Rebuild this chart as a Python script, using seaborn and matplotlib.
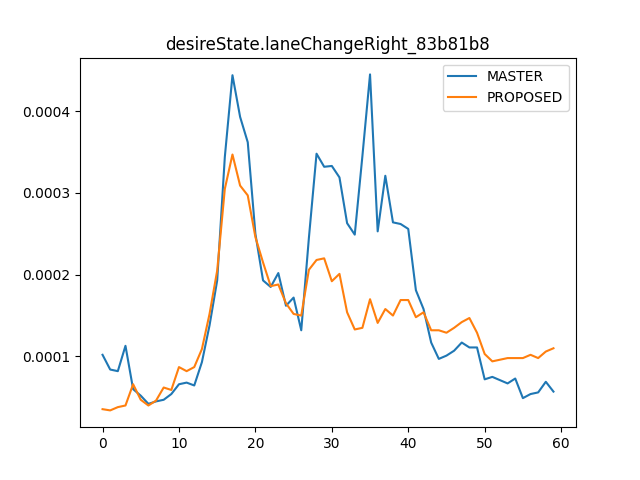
import pandas as pd
import matplotlib
matplotlib.use("Agg")
import matplotlib.pyplot as plt
import seaborn as sns

title = "desireState.laneChangeRight_83b81b8"

master = [1.02, 0.84, 0.82, 1.13, 0.60, 0.52, 0.42, 0.45, 0.47, 0.54,
          0.66, 0.68, 0.645, 0.93, 1.38, 1.93, 3.44, 4.44, 3.93, 3.62,
          2.50, 1.93, 1.85, 2.02, 1.62, 1.72, 1.32, 2.45, 3.48, 3.32,
          3.33, 3.19, 2.63, 2.49, 3.45, 4.45, 2.53, 3.21, 2.64, 2.62,
          2.56, 1.81, 1.58, 1.17, 0.97, 1.01, 1.07, 1.17, 1.11, 1.11,
          0.72, 0.75, 0.71, 0.67, 0.73, 0.49, 0.54, 0.56, 0.69, 0.57]

proposed = [0.355, 0.34, 0.38, 0.40, 0.66, 0.47, 0.40, 0.46, 0.62, 0.59,
            0.87, 0.82, 0.87, 1.09, 1.52, 2.05, 3.05, 3.47, 3.09, 2.97,
            2.46, 2.15, 1.86, 1.88, 1.65, 1.52, 1.50, 2.06, 2.18, 2.20,
            1.92, 2.01, 1.54, 1.33, 1.35, 1.70, 1.41, 1.58, 1.50, 1.69,
            1.69, 1.48, 1.54, 1.32, 1.32, 1.29, 1.35, 1.42, 1.47, 1.29,
            1.03, 0.94, 0.96, 0.98, 0.98, 0.98, 1.02, 0.98, 1.06, 1.10]

df = pd.DataFrame({
    "step": list(range(len(master))),
    "MASTER": [v * 1e-4 for v in master],
    "PROPOSED": [v * 1e-4 for v in proposed],
})

fig, ax = plt.subplots(figsize=(6.4, 4.8), dpi=100)
sns.lineplot(x="step", y="MASTER", data=df, label="MASTER", color="tab:blue", ax=ax)
sns.lineplot(x="step", y="PROPOSED", data=df, label="PROPOSED", color="tab:orange", ax=ax)
ax.set_xlabel("")
ax.set_ylabel("")
ax.set_title(title)
ax.legend(loc="upper right")
plt.savefig("out.png", dpi=100)
